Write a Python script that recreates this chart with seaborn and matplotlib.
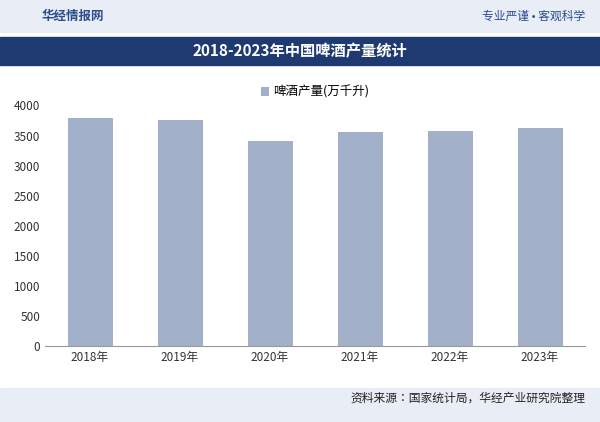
import matplotlib
matplotlib.use("Agg")
import matplotlib.pyplot as plt
from matplotlib import font_manager as fm
import seaborn as sns
import pandas as pd

cjk = [f.name for f in fm.fontManager.ttflist if "CJK" in f.name]
pref = [n for n in cjk if "SC" in n] or cjk
plt.rcParams['font.family'] = 'sans-serif'
plt.rcParams['font.sans-serif'] = (pref[:1] if pref else []) + ['Noto Sans CJK SC', 'DejaVu Sans']
plt.rcParams['axes.unicode_minus'] = False

years = ["2018年", "2019年", "2020年", "2021年", "2022年", "2023年"]
output = [3800, 3765, 3411, 3562, 3569, 3630]
series_name = "啤酒产量(万千升)"
yticks = [0, 500, 1000, 1500, 2000, 2500, 3000, 3500, 4000]

df = pd.DataFrame({"year": years, "value": output})

fig = plt.figure(figsize=(6, 4.22), dpi=100)
fig.patch.set_facecolor("white")

fig.patches.append(plt.Rectangle((0, 0.925), 1, 0.075, transform=fig.transFigure, color="#e9eef6", zorder=0))
fig.text(0.07, 0.962, "华经情报网", fontsize=9, color="#2a4b8d", va="center", fontweight="bold")
fig.text(0.975, 0.962, "专业严谨 • 客观科学", fontsize=8.5, color="#2a4b8d", va="center", ha="right")
fig.patches.append(plt.Rectangle((0.0, 0.845), 1, 0.068, transform=fig.transFigure, color="#1f3a70", zorder=0))
fig.text(0.5, 0.879, "2018-2023年中国啤酒产量统计", fontsize=11, color="white", va="center", ha="center", fontweight="bold")
fig.patches.append(plt.Rectangle((0, 0.0), 1, 0.08, transform=fig.transFigure, color="#e9eef6", zorder=0))
fig.text(0.975, 0.057, "资料来源：国家统计局，华经产业研究院整理", fontsize=8.5, color="#222222", va="center", ha="right")

ax = fig.add_axes([0.075, 0.18, 0.9, 0.57])
sns.barplot(data=df, x="year", y="value", color="#a3b0c9", width=0.5, ax=ax, label=series_name, saturation=1)
ax.set_ylim(0, 4000)
ax.set_yticks(yticks)
ax.set_xlabel("")
ax.set_ylabel("")
ax.tick_params(axis="both", length=0, labelsize=8.5, colors="#333333")
for s in ["top", "right", "left"]:
    ax.spines[s].set_visible(False)
ax.spines["bottom"].set_color("#999999")
ax.legend(loc="upper center", bbox_to_anchor=(0.5, 1.13), frameon=False, fontsize=9,
          handlelength=0.6, handleheight=0.8, handletextpad=0.3)

fig.savefig("out.png", dpi=100)
